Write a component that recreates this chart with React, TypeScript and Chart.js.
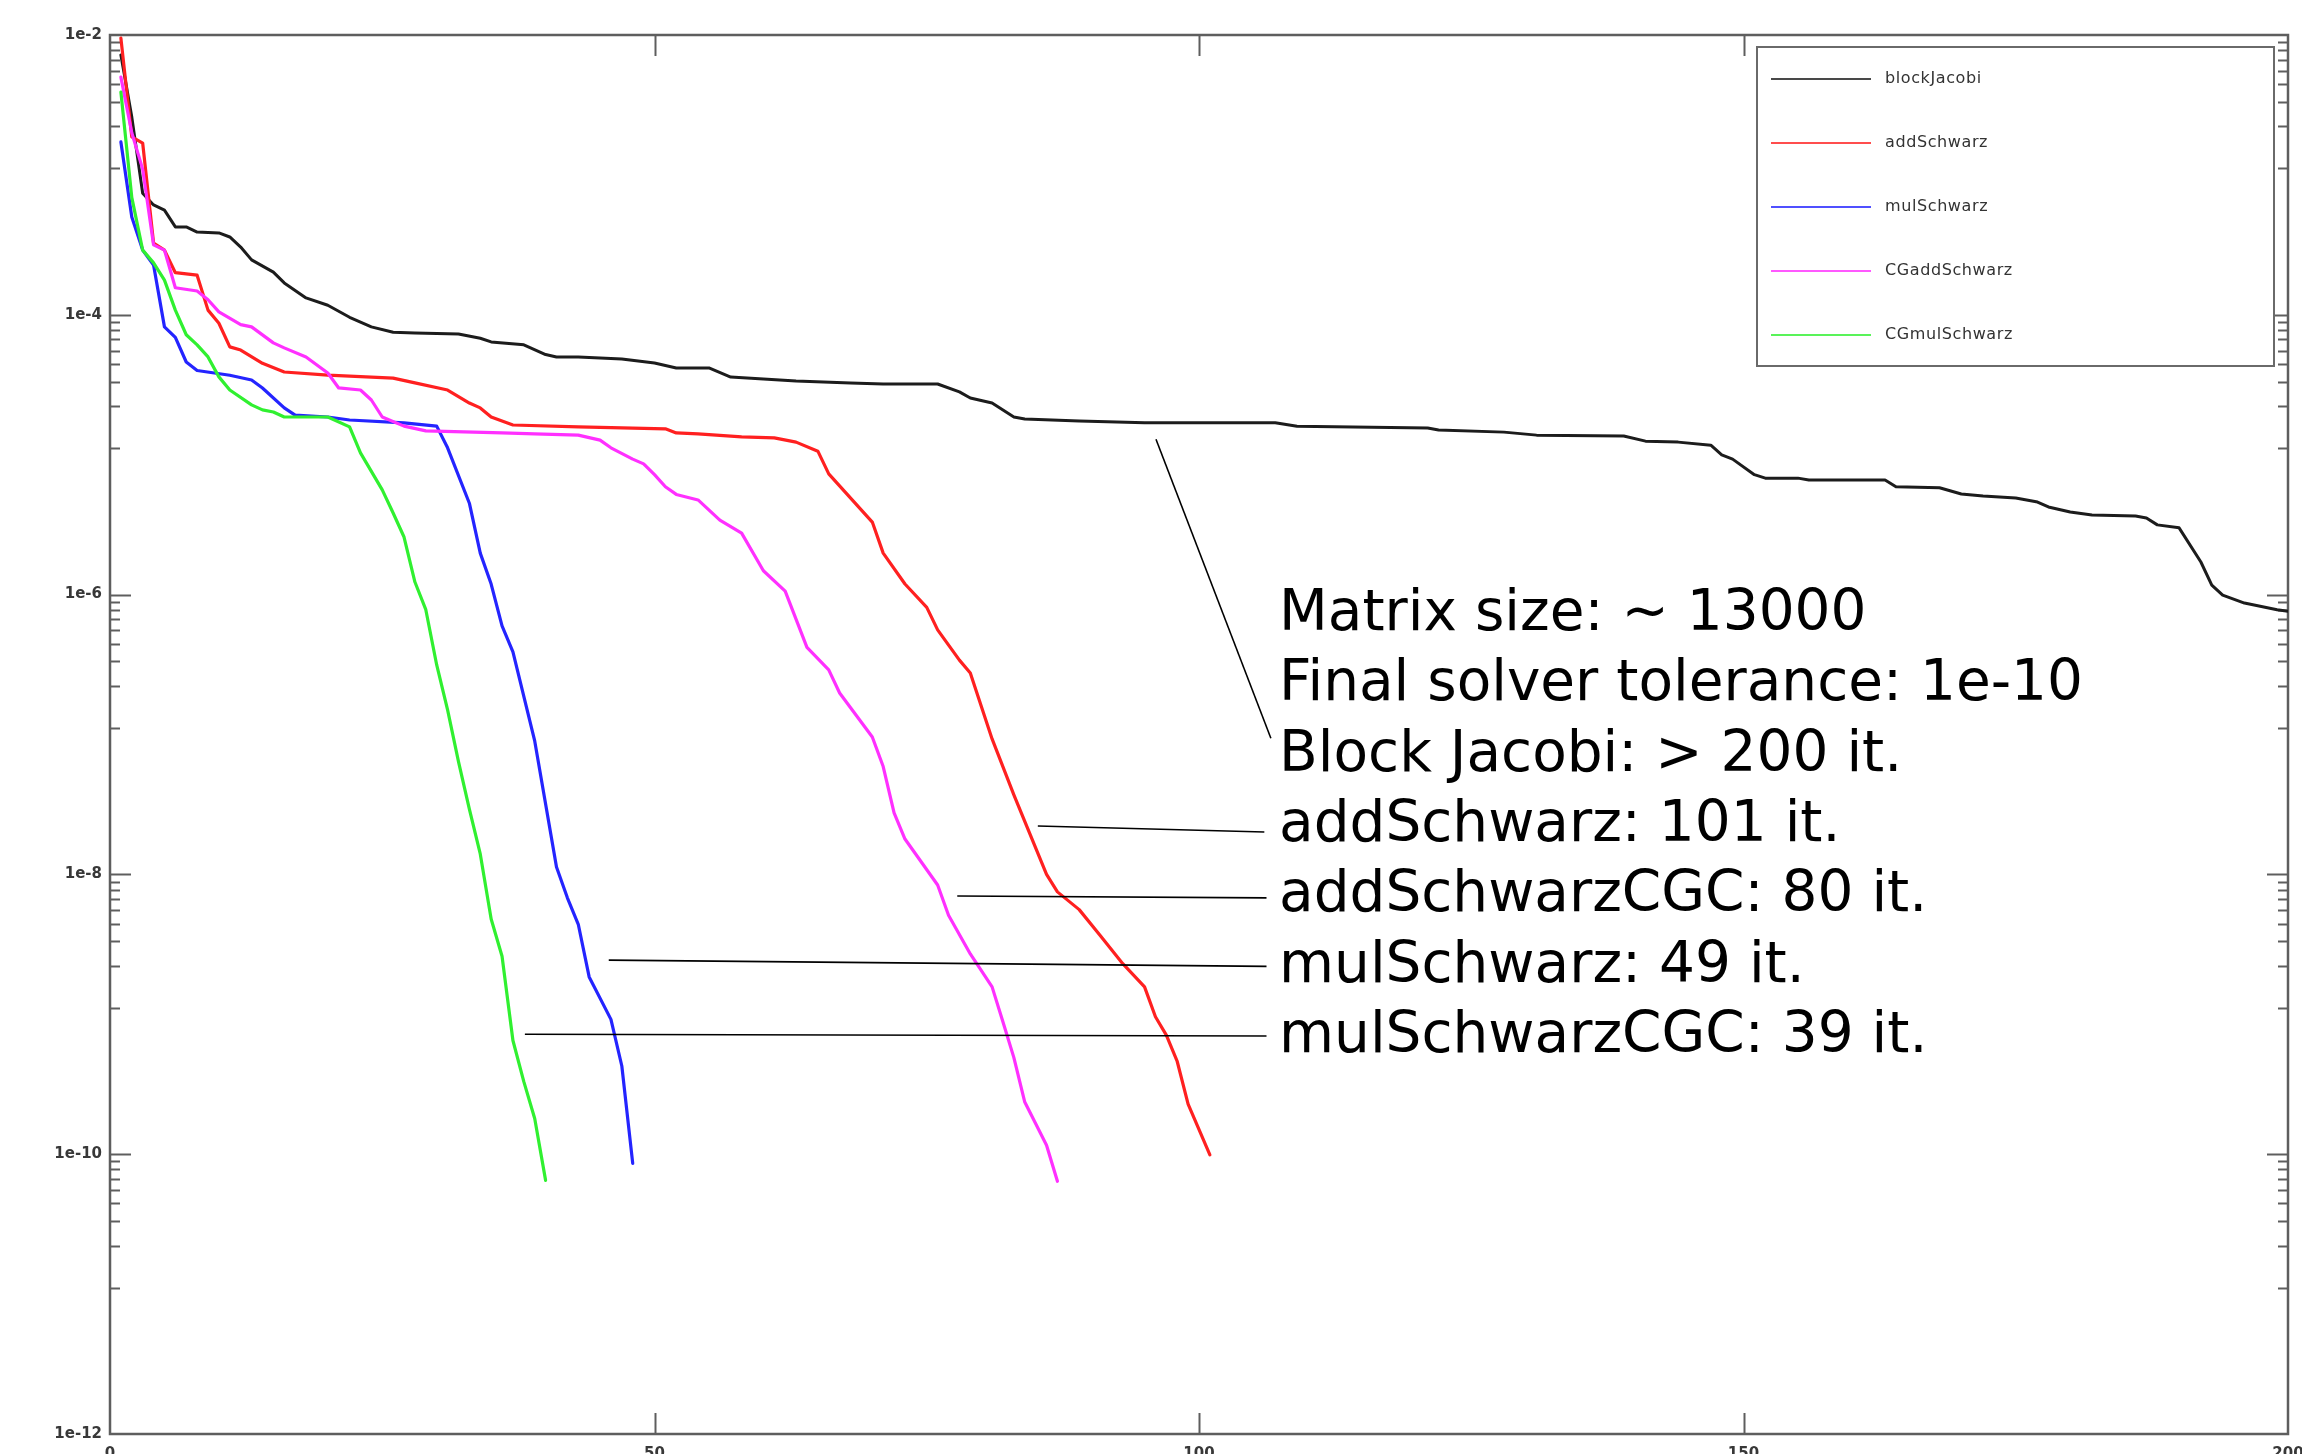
import React, { useEffect, useRef } from "react";
import { Chart, registerables } from "chart.js";

Chart.register(...registerables);

// ---------- data ----------
const seriesNames = ["blockJacobi", "addSchwarz", "mulSchwarz", "CGaddSchwarz", "CGmulSchwarz"];
const seriesColors = ["#1c1c1c", "#ff2020", "#2424ff", "#ff30ff", "#30f030"];

const blockJacobiIter = [1, 2, 3, 4, 5, 6, 7, 8, 10, 11, 12, 13, 15, 16, 18, 20, 22, 24, 26, 28, 32, 34, 35, 38, 40, 41, 43, 47, 50, 52, 55, 57, 60, 63, 68, 71, 76, 78, 79, 81, 83, 84, 89, 95, 97, 107, 109, 121, 122, 128, 131, 139, 141, 144, 147, 148, 149, 151, 152, 155, 156, 163, 164, 168, 170, 172, 175, 177, 178, 180, 182, 186, 187, 188, 190, 192, 193, 194, 196, 199, 200];
const blockJacobiRes = [7.2e-3, 2.6e-3, 7.4e-4, 6.1e-4, 5.6e-4, 4.25e-4, 4.25e-4, 3.9e-4, 3.85e-4, 3.6e-4, 3.05e-4, 2.47e-4, 2.02e-4, 1.69e-4, 1.32e-4, 1.17e-4, 9.6e-5, 8.2e-5, 7.5e-5, 7.4e-5, 7.3e-5, 6.8e-5, 6.4e-5, 6.1e-5, 5.2e-5, 5.0e-5, 5.0e-5, 4.83e-5, 4.52e-5, 4.17e-5, 4.17e-5, 3.59e-5, 3.47e-5, 3.36e-5, 3.26e-5, 3.2e-5, 3.2e-5, 2.81e-5, 2.54e-5, 2.34e-5, 1.86e-5, 1.8e-5, 1.74e-5, 1.69e-5, 1.69e-5, 1.69e-5, 1.6e-5, 1.55e-5, 1.5e-5, 1.45e-5, 1.38e-5, 1.36e-5, 1.25e-5, 1.23e-5, 1.17e-5, 9.96e-6, 9.3e-6, 7.2e-6, 6.8e-6, 6.8e-6, 6.6e-6, 6.6e-6, 5.9e-6, 5.8e-6, 5.24e-6, 5.07e-6, 4.9e-6, 4.59e-6, 4.23e-6, 3.89e-6, 3.7e-6, 3.65e-6, 3.53e-6, 3.15e-6, 3.0e-6, 1.71e-6, 1.17e-6, 9.9e-7, 8.7e-7, 7.8e-7, 7.6e-7];

const addSchwarzIter = [1, 2, 3, 4, 5, 6, 8, 9, 10, 11, 12, 14, 16, 20, 26, 28, 31, 33, 34, 35, 37, 43, 51, 52, 54, 58, 61, 63, 65, 66, 70, 71, 73, 75, 76, 78, 79, 81, 83, 86, 87, 89, 91, 93, 95, 96, 97, 98, 99, 101];
const addSchwarzRes = [9.5e-3, 1.87e-3, 1.69e-3, 3.26e-4, 2.9e-4, 2.0e-4, 1.92e-4, 1.08e-4, 8.7e-5, 5.9e-5, 5.6e-5, 4.5e-5, 3.9e-5, 3.7e-5, 3.53e-5, 3.26e-5, 2.9e-5, 2.34e-5, 2.16e-5, 1.86e-5, 1.63e-5, 1.58e-5, 1.53e-5, 1.43e-5, 1.41e-5, 1.34e-5, 1.32e-5, 1.23e-5, 1.06e-5, 7.3e-6, 3.3e-6, 1.98e-6, 1.19e-6, 8.1e-7, 5.6e-7, 3.4e-7, 2.75e-7, 9.3e-8, 3.7e-8, 1.0e-8, 7.5e-9, 5.6e-9, 3.6e-9, 2.3e-9, 1.57e-9, 9.6e-10, 7.1e-10, 4.6e-10, 2.28e-10, 9.9e-11];

const mulSchwarzIter = [1, 2, 3, 4, 5, 6, 7, 8, 11, 13, 14, 16, 17, 20, 22, 27, 30, 31, 33, 34, 35, 36, 37, 39, 41, 42, 43, 44, 46, 47, 48];
const mulSchwarzRes = [1.72e-3, 5.0e-4, 2.9e-4, 2.27e-4, 8.2e-5, 6.9e-5, 4.6e-5, 4.0e-5, 3.7e-5, 3.42e-5, 3.0e-5, 2.16e-5, 1.92e-5, 1.86e-5, 1.77e-5, 1.69e-5, 1.6e-5, 1.12e-5, 4.5e-6, 1.98e-6, 1.19e-6, 5.97e-7, 3.9e-7, 9.0e-8, 1.13e-8, 6.8e-9, 4.4e-9, 1.85e-9, 9.2e-10, 4.27e-10, 8.6e-11];

const cgAddSchwarzIter = [1, 2, 3, 4, 5, 6, 8, 9, 10, 12, 13, 15, 16, 18, 20, 21, 23, 24, 25, 27, 29, 36, 39, 43, 45, 46, 48, 49, 50, 51, 52, 54, 56, 58, 60, 62, 64, 66, 67, 70, 71, 72, 73, 76, 77, 79, 81, 82, 83, 84, 86, 87];
const cgAddSchwarzRes = [5.0e-3, 2.0e-3, 1.1e-3, 3.16e-4, 2.9e-4, 1.56e-4, 1.48e-4, 1.28e-4, 1.05e-4, 8.5e-5, 8.2e-5, 6.3e-5, 5.8e-5, 5.0e-5, 3.84e-5, 3.0e-5, 2.9e-5, 2.46e-5, 1.86e-5, 1.6e-5, 1.48e-5, 1.43e-5, 1.41e-5, 1.38e-5, 1.27e-5, 1.12e-5, 9.3e-6, 8.6e-6, 7.2e-6, 5.9e-6, 5.2e-6, 4.75e-6, 3.41e-6, 2.75e-6, 1.48e-6, 1.06e-6, 4.2e-7, 2.9e-7, 1.98e-7, 9.6e-8, 5.9e-8, 2.75e-8, 1.79e-8, 8.4e-9, 5.1e-9, 2.7e-9, 1.57e-9, 8.8e-10, 4.9e-10, 2.36e-10, 1.16e-10, 6.4e-11];

const cgMulSchwarzIter = [1, 2, 3, 4, 5, 6, 7, 8, 9, 10, 11, 13, 14, 15, 16, 20, 22, 23, 25, 26, 27, 28, 29, 30, 31, 32, 33, 34, 35, 36, 37, 38, 39, 40];
const cgMulSchwarzRes = [3.9e-3, 6.9e-4, 2.9e-4, 2.35e-4, 1.77e-4, 1.08e-4, 7.2e-5, 6.1e-5, 5.0e-5, 3.6e-5, 2.9e-5, 2.27e-5, 2.09e-5, 2.02e-5, 1.86e-5, 1.86e-5, 1.58e-5, 1.03e-5, 5.6e-6, 3.83e-6, 2.58e-6, 1.23e-6, 7.8e-7, 3.14e-7, 1.5e-7, 6.4e-8, 2.93e-8, 1.4e-8, 4.8e-9, 2.6e-9, 6.5e-10, 3.3e-10, 1.8e-10, 6.5e-11];

const xTickValues = [0, 50, 100, 150, 200];
const yMajorValues = [1e-2, 1e-4, 1e-6, 1e-8, 1e-10, 1e-12];

const noteLines = [
  "Matrix size: ~ 13000",
  "Final solver tolerance: 1e-10",
  "Block Jacobi: > 200 it.",
  "addSchwarz: 101 it.",
  "addSchwarzCGC: 80 it.",
  "mulSchwarz: 49 it.",
  "mulSchwarzCGC: 39 it.",
];
const noteAnchorX = 107.35;
const noteAnchorY = 5.58e-7;

const pointerFromX = [96.05, 85.2, 77.8, 45.8, 38.1];
const pointerFromY = [1.29e-5, 2.22e-8, 7.0e-9, 2.44e-9, 7.2e-10];
const pointerToX = [106.6, 106.0, 106.2, 106.2, 106.2];
const pointerToY = [9.4e-8, 2.01e-8, 6.8e-9, 2.2e-9, 7.0e-10];

// ---------- helpers ----------
const toPoints = (xs: number[], ys: number[]) => xs.map((x, i) => ({ x, y: ys[i] }));
const seriesIters = [blockJacobiIter, addSchwarzIter, mulSchwarzIter, cgAddSchwarzIter, cgMulSchwarzIter];
const seriesRes = [blockJacobiRes, addSchwarzRes, mulSchwarzRes, cgAddSchwarzRes, cgMulSchwarzRes];

const AXIS = "#5e5e5e";
const LABEL = "#383838";

const decorPlugin = {
  id: "decor",
  beforeDatasetsDraw(chart: any) {
    const { ctx, chartArea: a, scales } = chart;
    const xs = scales.x;
    const ys = scales.y;
    ctx.save();
    ctx.strokeStyle = AXIS;
    ctx.lineWidth = 2;
    ctx.lineCap = "butt";
    const hLine = (x1: number, x2: number, y: number) => {
      ctx.beginPath();
      ctx.moveTo(x1, y);
      ctx.lineTo(x2, y);
      ctx.stroke();
    };
    const vLine = (x: number, y1: number, y2: number) => {
      ctx.beginPath();
      ctx.moveTo(x, y1);
      ctx.lineTo(x, y2);
      ctx.stroke();
    };
    for (const m of yMajorValues) {
      const py = Math.round(ys.getPixelForValue(m)) + 0.5;
      if (m < 1e-2 && m > 1e-12) {
        hLine(a.left, a.left + 21, py);
        hLine(a.right - 21, a.right, py);
      }
      for (let k = 1; k <= 8; k++) {
        const v = (m * (9 - k)) / 9;
        if (v <= 1e-12) continue;
        const pm = Math.round(ys.getPixelForValue(v)) + 0.5;
        hLine(a.left, a.left + 10, pm);
        hLine(a.right - 10, a.right, pm);
      }
    }
    for (const t of xTickValues) {
      if (t === 0 || t === 200) continue;
      const px = Math.round(xs.getPixelForValue(t)) + 0.5;
      vLine(px, a.bottom - 21, a.bottom);
      vLine(px, a.top, a.top + 21);
    }
    ctx.lineWidth = 2.5;
    ctx.strokeRect(a.left, a.top, a.right - a.left, a.bottom - a.top);
    ctx.restore();
  },
  afterDatasetsDraw(chart: any) {
    const { ctx, chartArea: a, scales } = chart;
    const xs = scales.x;
    const ys = scales.y;
    ctx.save();

    // x tick labels (mostly below the visible page)
    ctx.fillStyle = LABEL;
    ctx.font = 'bold 15px "DejaVu Sans"';
    ctx.textAlign = "center";
    ctx.textBaseline = "top";
    for (const t of xTickValues) {
      ctx.fillText(String(t), xs.getPixelForValue(t), a.bottom + 13);
    }

    // legend
    const lx = 1757, ly = 47, lw = 517, lh = 319;
    ctx.fillStyle = "#ffffff";
    ctx.fillRect(lx, ly, lw, lh);
    ctx.strokeStyle = "#6a6a6a";
    ctx.lineWidth = 2;
    ctx.strokeRect(lx, ly, lw, lh);
    chart.data.datasets.forEach((ds: any, i: number) => {
      const y = 79 + i * 64;
      ctx.strokeStyle = ds.borderColor;
      ctx.globalAlpha = 0.8;
      ctx.lineWidth = 2;
      ctx.beginPath();
      ctx.moveTo(1771, y);
      ctx.lineTo(1871, y);
      ctx.stroke();
      ctx.globalAlpha = 1;
      ctx.fillStyle = "#333333";
      ctx.font = '16px "DejaVu Sans"';
      (ctx as any).letterSpacing = "0.6px";
      ctx.textAlign = "left";
      ctx.textBaseline = "middle";
      ctx.fillText(ds.label, 1885, y);
      (ctx as any).letterSpacing = "0px";
    });

    // pointer lines
    ctx.strokeStyle = "#000000";
    ctx.lineWidth = 1.6;
    for (let i = 0; i < pointerFromX.length; i++) {
      ctx.beginPath();
      ctx.moveTo(xs.getPixelForValue(pointerFromX[i]), ys.getPixelForValue(pointerFromY[i]));
      ctx.lineTo(xs.getPixelForValue(pointerToX[i]), ys.getPixelForValue(pointerToY[i]));
      ctx.stroke();
    }

    // note text
    ctx.fillStyle = "#000000";
    ctx.font = '56.5px "DejaVu Sans"';
    ctx.textAlign = "left";
    ctx.textBaseline = "alphabetic";
    const tx = xs.getPixelForValue(noteAnchorX);
    const ty = ys.getPixelForValue(noteAnchorY);
    noteLines.forEach((line, i) => ctx.fillText(line, tx, ty + i * 70.3));

    ctx.restore();
  },
};

export default function App() {
  const ref = useRef<HTMLCanvasElement>(null);
  useEffect(() => {
    document.body.style.margin = "0";
    const canvas = ref.current;
    if (!canvas) return;
    const datasets = seriesNames.map((name, i) => ({
      label: name,
      data: toPoints(seriesIters[i], seriesRes[i]),
      borderColor: seriesColors[i],
      backgroundColor: seriesColors[i],
      borderWidth: i === 0 ? 3 : 3.2,
      borderJoinStyle: "round",
      borderCapStyle: "round",
      pointRadius: 0,
      tension: 0,
      fill: false,
      order: seriesNames.length - i,
    }));
    const chart = new Chart(canvas, {
      type: "line",
      data: { datasets },
      options: {
        responsive: false,
        animation: false,
        devicePixelRatio: 1,
        layout: { padding: { left: 0, top: 35, right: 14, bottom: 0 } },
        plugins: { legend: { display: false }, tooltip: { enabled: false } },
        scales: {
          x: {
            type: "linear",
            min: 0,
            max: 200,
            grid: { display: false, drawTicks: false },
            border: { display: false },
            ticks: { display: false },
            afterFit: (s: any) => {
              s.height = 20;
            },
          },
          y: {
            type: "logarithmic",
            min: 1e-12,
            max: 1e-2,
            grid: { display: false, drawTicks: false },
            border: { display: false },
            afterBuildTicks: (s: any) => {
              s.ticks = yMajorValues.map((v) => ({ value: v }));
            },
            afterFit: (s: any) => {
              s.width = 110;
            },
            ticks: {
              autoSkip: false,
              padding: 8,
              color: LABEL,
              font: { family: "DejaVu Sans", size: 15, weight: "bold" },
              callback: (v: any) => "1e" + Math.round(Math.log10(Number(v))),
            },
          },
        },
      } as any,
      plugins: [decorPlugin],
    });
    return () => chart.destroy();
  }, []);
  return <canvas ref={ref} width={2302} height={1454} style={{ display: "block", width: 2302, height: 1454 }} />;
}
